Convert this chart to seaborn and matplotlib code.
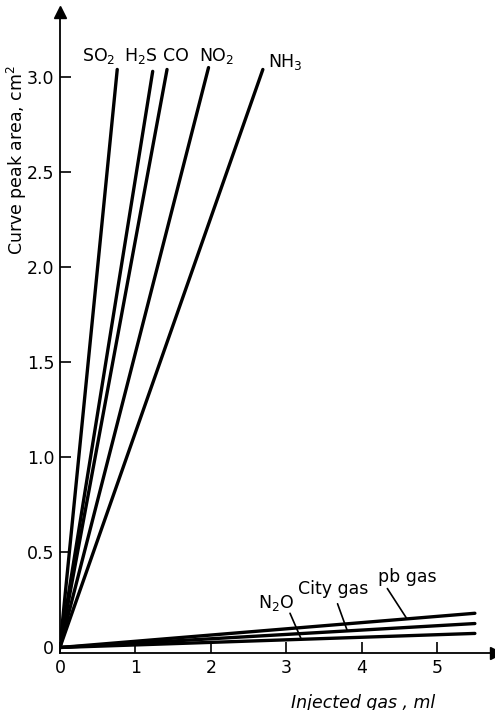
import matplotlib
matplotlib.use("Agg")
import matplotlib.pyplot as plt
import pandas as pd
import seaborn as sns

# values: each line runs from the origin to its end point
gases = ["SO$_2$", "H$_2$S", "CO", "NO$_2$", "NH$_3$", "N$_2$O", "City gas", "pb gas"]
x_end = [0.76, 1.23, 1.42, 1.97, 2.69, 5.5, 5.5, 5.5]
y_end = [3.04, 3.03, 3.04, 3.05, 3.04, 0.074, 0.126, 0.18]

x_ticks = [0, 1, 2, 3, 4, 5]
y_ticks = [0, 0.5, 1.0, 1.5, 2.0, 2.5, 3.0]
y_ticklabels = ["0", "0.5", "1.0", "1.5", "2.0", "2.5", "3.0"]

rows = []
for g, xe, ye in zip(gases, x_end, y_end):
    rows.append({"gas": g, "x": 0.0, "y": 0.0})
    rows.append({"gas": g, "x": xe, "y": ye})
df = pd.DataFrame(rows)

sns.set_theme(style="ticks")
plt.rcParams["font.family"] = ["DejaVu Sans"]
plt.rcParams["text.color"] = "black"
plt.rcParams["axes.labelcolor"] = "black"

fig = plt.figure(figsize=(4.95, 7.10), dpi=100)
ax = fig.add_axes([0.121, 0.080, 0.881, 0.9025])

sns.lineplot(data=df, x="x", y="y", units="gas", estimator=None,
             color="black", linewidth=2.4, ax=ax, legend=False)

ax.set_xlim(0, 5.78)
ax.set_ylim(-0.03, 3.34)
ax.set_xticks(x_ticks)
ax.set_yticks(y_ticks)
ax.set_yticklabels(y_ticklabels)
ax.tick_params(axis="both", direction="in", length=8, width=1.2,
               labelsize=12.5, colors="black", pad=4)
for s in ["top", "right"]:
    ax.spines[s].set_visible(False)
for s in ["left", "bottom"]:
    ax.spines[s].set_linewidth(1.3)
    ax.spines[s].set_color("black")

# arrow heads on the axes
ax.plot(1, -0.03, ">", color="black", markersize=9,
        transform=ax.get_yaxis_transform(), clip_on=False)
ax.plot(0, 1, "^", color="black", markersize=9,
        transform=ax.get_xaxis_transform(), clip_on=False)

ax.set_xlabel("Injected gas , ml", fontsize=12.5, style="italic", va="center")
ax.xaxis.set_label_coords(0.695, -0.077)
ax.set_ylabel("Curve peak area, cm$^2$", fontsize=12.5, va="center")
ax.yaxis.set_label_coords(-0.098, 0.77)

# labels at the top ends of the steep lines
top_pos = [(0.52, 3.11), (1.07, 3.11), (1.54, 3.11), (2.08, 3.11), (2.98, 3.08)]
for g, (tx, ty) in zip(gases[:5], top_pos):
    ax.text(tx, ty, g, fontsize=12.5, ha="center", va="center")

# labels with leader lines for the flat lines
low_text = [(2.86, 0.235), (3.62, 0.31), (4.6, 0.37)]
lead_start = [(3.05, 0.18), (3.68, 0.23), (4.34, 0.31)]
low_hit = [3.2, 3.81, 4.6]
for g, xe, ye, (tx, ty), (sx, sy), hx in zip(gases[5:], x_end[5:], y_end[5:],
                                            low_text, lead_start, low_hit):
    ax.text(tx, ty, g, fontsize=12.5, ha="center", va="center")
    ax.annotate("", xy=(hx, ye / xe * hx), xytext=(sx, sy),
                arrowprops=dict(arrowstyle="-", color="black", lw=1.2,
                                shrinkA=0, shrinkB=0))

fig.savefig("out.png", dpi=100)
